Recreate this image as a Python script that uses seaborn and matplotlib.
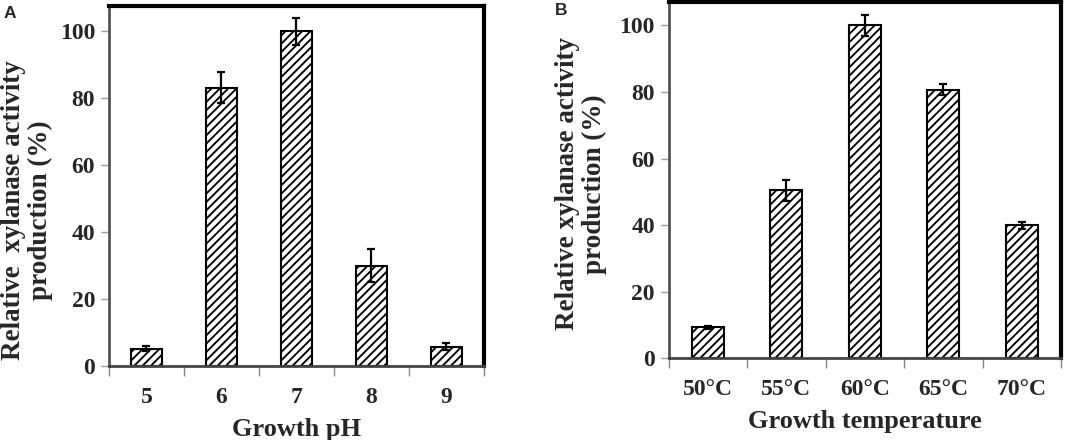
import matplotlib
matplotlib.use("Agg")
import matplotlib.pyplot as plt
import seaborn as sns
import pandas as pd

# 값
ph_labels = ["5", "6", "7", "8", "9"]
ph_activity = [5.2, 83.2, 100.0, 30.0, 5.8]
ph_err = [0.8, 4.5, 4.0, 5.0, 1.1]

temp_labels = ["50°C", "55°C", "60°C", "65°C", "70°C"]
temp_activity = [9.3, 50.5, 100.0, 80.7, 39.9]
temp_err = [0.5, 3.2, 3.1, 1.7, 1.1]

sns.set_style("white")
plt.rcParams["font.family"] = ["Liberation Serif", "DejaVu Serif"]
plt.rcParams["font.weight"] = "bold"
plt.rcParams["hatch.color"] = "black"
plt.rcParams["hatch.linewidth"] = 1.35

fig = plt.figure(figsize=(10.75, 4.4), dpi=100)
ax_a = fig.add_axes([0.1014, 0.168, 0.3486, 0.818])
ax_b = fig.add_axes([0.622, 0.186, 0.365, 0.809])


def draw_panel(ax, labels, vals, errs, xlabel, ylabel, ytop):
    df = pd.DataFrame({"cat": labels, "val": vals})
    sns.barplot(data=df, x="cat", y="val", order=labels, ax=ax, color="white",
                edgecolor="black", linewidth=1.5, width=0.41, hatch="////",
                errorbar=None, saturation=1)
    centers = [p.get_x() + p.get_width() / 2 for p in ax.patches]
    ax.errorbar(centers, vals, yerr=errs, fmt="none", ecolor="black",
                elinewidth=1.6, capsize=2.6, capthick=1.6, zorder=5)
    ax.set_ylim(0, ytop)
    ax.set_xlim(-0.5, len(labels) - 0.5)
    ax.set_yticks([0, 20, 40, 60, 80, 100])
    ax.set_xticks(range(len(labels)))
    ax.set_xticklabels(labels)
    # 카테고리 경계에 눈금
    ax.set_xticks([i - 0.5 for i in range(len(labels) + 1)], minor=True)
    ax.tick_params(axis="x", which="major", length=0, pad=15, labelsize=17)
    ax.tick_params(axis="x", which="minor", direction="out", length=7,
                   width=1, color="#888888", bottom=True)
    ax.tick_params(axis="y", direction="out", length=6, width=1,
                   color="#999999", labelsize=17, left=True, pad=4)
    for t in ax.get_xticklabels() + ax.get_yticklabels():
        t.set_fontweight("bold")
    ax.set_xlabel(xlabel, fontsize=19, fontweight="bold", labelpad=7)
    ax.set_ylabel(ylabel, fontsize=19.5, fontweight="bold", linespacing=1.1)
    ax.spines["left"].set_color("#555555")
    ax.spines["left"].set_linewidth(2)
    ax.spines["bottom"].set_color("#444444")
    ax.spines["bottom"].set_linewidth(2)
    for s in ["top", "right"]:
        ax.spines[s].set_color("black")
        ax.spines[s].set_linewidth(3)
        ax.spines[s].set_visible(True)


draw_panel(ax_a, ph_labels, ph_activity, ph_err, "Growth pH",
           "Relative  xylanase activity\nproduction (%)", 107.5)
draw_panel(ax_b, temp_labels, temp_activity, temp_err, "Growth temperature",
           "Relative xylanase activity\nproduction (%)", 107.0)

ax_a.yaxis.set_label_coords(-0.15, 0.433)
ax_b.yaxis.set_label_coords(-0.158, 0.49)

fig.text(0.003, 0.986, "A", fontsize=12.5, fontweight="bold",
         family=["Liberation Sans", "DejaVu Sans"], va="top", ha="left")
fig.text(0.516, 0.993, "B", fontsize=12.5, fontweight="bold",
         family=["Liberation Sans", "DejaVu Sans"], va="top", ha="left")

fig.savefig("out.png", dpi=100)
